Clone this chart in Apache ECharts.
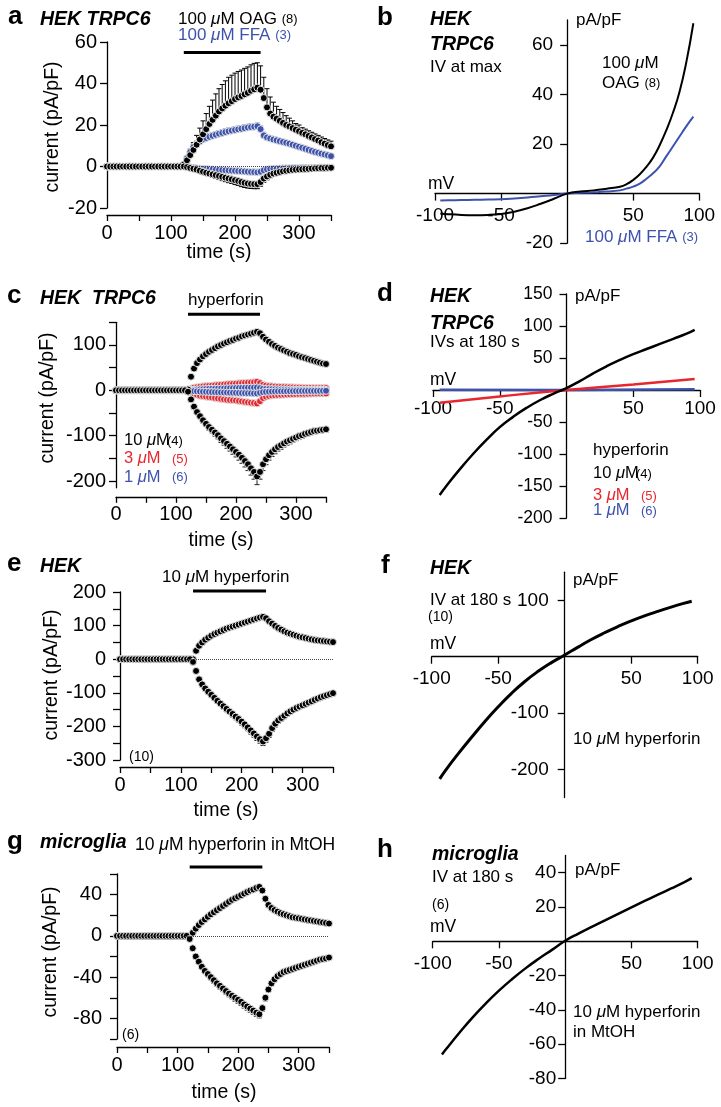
<!DOCTYPE html>
<html><head><meta charset="utf-8">
<script src="https://cdn.jsdelivr.net/npm/echarts@6/dist/echarts.min.js"></script>
<style>html,body{margin:0;padding:0;background:#fff}#c{width:721px;height:1107px}</style>
</head><body><div id="c"></div>
<script>
const FF = '"Liberation Sans", Arial, Helvetica, sans-serif';
const BLUE = '#3d52ae', RED = '#e8262d';

// ---- time-course data (t in s) ----
const TIME = [0,5,10,15,20,25,30,35,40,45,50,55,60,65,70,75,80,85,90,95,100,105,110,115,120,125,130,135,140,145,150,155,160,165,170,175,180,185,190,195,200,205,210,215,220,225,230,235,240,245,250,255,260,265,270,275,280,285,290,295,300,305,310,315,320,325,330,335,340,345,350];
const TIME_TICKS = [0,50,100,150,200,250,300,350];
const TIME_LABELS = [0,100,200,300];
const STIM = [120,240];

// panel a
const A_OAG_OUT = [0,0,0,0,0,0,0,0,0,0,0,0,0,0,0,0,0,0,0,0,0,0,0,0,1,3,5.5,8,10.5,13,15.5,18,20.5,22.5,24.5,26.5,28,29.3,30.5,31.5,32.5,33.3,34,34.8,35.5,36.5,37.2,38,37,33,28.5,25.5,24,23,22,21,20,19.3,18.5,17.7,17,16.2,15.5,14.7,14,13.2,12.5,11.7,11,10.3,9.7];
const A_OAG_OUT_ERR = [0,0,0,0,0,0,0,0,0,0,0,0,0,0,0,0,0,0,0,0,0,0,0,0,0.5,1.5,2.5,3.5,4.5,5.5,6.5,7.5,8.5,9.5,10.5,11,11.5,12,12.5,12.5,12.5,12.5,12.5,12.5,12.5,12.5,12.5,12,11.5,10,9,8,7,6,5.5,5,4.5,4,3.5,3,3,2.5,2.5,2.5,2.5,2.5,2.5,2.5,2.5,2.5,2.5];
const A_OAG_IN = [0,0,0,0,0,0,0,0,0,0,0,0,0,0,0,0,0,0,0,0,0,0,0,0,0,-0.3,-0.7,-1.1,-1.5,-2,-2.5,-3,-3.4,-3.8,-4.2,-4.6,-5,-5.4,-5.8,-6.2,-6.6,-7,-7.5,-7.9,-8.2,-8.4,-8.5,-8.5,-7.5,-5.8,-4.8,-4,-3.4,-3,-2.6,-2.3,-2,-1.8,-1.6,-1.5,-1.4,-1.3,-1.2,-1.1,-1,-0.9,-0.8,-0.7,-0.7,-0.6,-0.6];
const A_OAG_IN_ERR = [0,0,0,0,0,0,0,0,0,0,0,0,0,0,0,0,0,0,0,0,0,0,0,0,0.2,0.4,0.6,0.8,1,1.1,1.2,1.3,1.4,1.5,1.6,1.7,1.8,1.9,2,2,2.1,2.1,2.2,2.2,2.2,2.2,2.2,2.2,2,1.8,1.6,1.4,1.2,1.1,1,0.9,0.8,0.8,0.7,0.7,0.6,0.6,0.6,0.5,0.5,0.5,0.5,0.5,0.5,0.5,0.5];
const A_FFA_OUT = [0,0,0,0,0,0,0,0,0,0,0,0,0,0,0,0,0,0,0,0,0,0,0,0,1,4,7,9.5,11,12,13,13.7,14.3,14.8,15.3,15.8,16.2,16.6,17,17.3,17.6,17.9,18.2,18.5,18.8,19,19.2,19.4,18,15,14,13.5,13,12.6,12.2,11.8,11.4,11,10.5,10,9.5,9,8.5,8,7.5,7,6.6,6.2,5.8,5.4,5];
const A_FFA_OUT_ERR = [0,0,0,0,0,0,0,0,0,0,0,0,0,0,0,0,0,0,0,0,0,0,0,0,0.5,1,1.5,1.5,1.5,1.5,1.5,1.5,1.5,1.5,1.5,1.5,1.5,1.5,1.5,1.5,1.5,1.5,1.5,1.5,1.5,1.5,1.5,1.5,1.5,1.5,1.2,1.2,1.2,1.2,1.2,1,1,1,1,1,1,1,1,1,1,1,1,1,1,1,1];
const A_FFA_IN = [0,0,0,0,0,0,0,0,0,0,0,0,0,0,0,0,0,0,0,0,0,0,0,0,0,-0.2,-0.4,-0.6,-0.8,-1,-1.1,-1.2,-1.3,-1.4,-1.5,-1.6,-1.7,-1.8,-1.9,-2,-2.1,-2.2,-2.3,-2.4,-2.5,-2.6,-2.7,-2.8,-2.5,-1.8,-1.4,-1.2,-1.1,-1,-0.95,-0.9,-0.85,-0.8,-0.75,-0.7,-0.7,-0.65,-0.6,-0.6,-0.55,-0.55,-0.5,-0.5,-0.5,-0.5,-0.5];
const A_FFA_IN_ERR = [0,0,0,0,0,0,0,0,0,0,0,0,0,0,0,0,0,0,0,0,0,0,0,0,0.3,0.4,0.5,0.6,0.6,0.6,0.6,0.6,0.6,0.6,0.6,0.6,0.6,0.6,0.6,0.6,0.6,0.6,0.6,0.6,0.6,0.6,0.6,0.6,0.6,0.6,0.6,0.6,0.6,0.5,0.5,0.5,0.5,0.5,0.5,0.5,0.5,0.5,0.5,0.5,0.5,0.5,0.5,0.5,0.5,0.5,0.5];

// panel c
const C10_OUT = [0,0,0,0,0,0,0,0,0,0,0,0,0,0,0,0,0,0,0,0,0,0,0,0,2,30,48,60,68,75,80,85,89,93,97,100,103,106,109,111,114,116,119,121,123,125,127,129,126,118,112,107,102,98,94,91,88,85,82,80,78,75,73,71,69,67,65,63,61,59,58];
const C10_OUT_ERR = [0,0,0,0,0,0,0,0,0,0,0,0,0,0,0,0,0,0,0,0,0,0,0,0,1,3,4,4,4,4,4,4,4,4,5,5,5,5,5,5,5,5,5,5,5,5,5,5,5,5,5,5,5,5,5,5,5,4,4,4,4,4,4,4,4,4,4,4,4,4,4];
const C10_IN = [0,0,0,0,0,0,0,0,0,0,0,0,0,0,0,0,0,0,0,0,0,0,0,0,-3,-20,-36,-48,-57,-66,-74,-81,-87,-93,-99,-106,-112,-118,-124,-130,-136,-142,-149,-156,-163,-172,-180,-190,-180,-163,-152,-143,-136,-130,-125,-121,-117,-113,-110,-107,-104,-101,-99,-96,-94,-92,-90,-89,-88,-87,-86];
const C10_IN_ERR = [0,0,0,0,0,0,0,0,0,0,0,0,0,0,0,0,0,0,0,0,0,0,0,0,1,2,3,4,5,6,6,7,7,8,8,9,9,10,10,11,11,12,12,13,14,15,16,18,16,14,12,11,10,10,9,9,8,8,8,7,7,7,7,6,6,6,6,6,6,6,6];
const C3_OUT = [0,0,0,0,0,0,0,0,0,0,0,0,0,0,0,0,0,0,0,0,0,0,0,0,1,4,6,7,8,8.7,9.4,10,10.6,11.2,11.8,12.4,13,13.5,14,14.5,15,15.5,16,16.5,17,17.5,18,19,16,12,10.5,9.5,9,8.5,8,7.6,7.3,7,6.8,6.6,6.4,6.2,6,5.8,5.6,5.4,5.2,5.1,5,5,5];
const C3_IN = [0,0,0,0,0,0,0,0,0,0,0,0,0,0,0,0,0,0,0,0,0,0,0,0,-1,-5,-8,-10,-12,-13,-14,-15,-16,-17,-18,-19,-20,-21,-21.5,-22,-22.5,-23.5,-24.5,-25.5,-26.5,-27.5,-28,-29,-24,-17,-14,-12.5,-11.5,-11,-10.5,-10,-9.7,-9.4,-9.1,-8.8,-8.5,-8.3,-8.1,-7.9,-7.7,-7.5,-7.3,-7.2,-7.1,-7,-7];
const C1_OUT = [0,0,0,0,0,0,0,0,0,0,0,0,0,0,0,0,0,0,0,0,0,0,0,0,0.5,1,1.5,2,2.3,2.6,2.9,3.2,3.4,3.6,3.8,4,4.2,4.4,4.6,4.8,5,5.2,5.4,5.6,5.8,6,6.2,6.4,5,3.5,3,2.7,2.5,2.3,2.1,2,1.9,1.8,1.7,1.6,1.5,1.5,1.4,1.4,1.3,1.3,1.2,1.2,1.1,1.1,1];
const C1_IN = [0,0,0,0,0,0,0,0,0,0,0,0,0,0,0,0,0,0,0,0,0,0,0,0,-0.5,-1.2,-1.8,-2.3,-2.7,-3,-3.3,-3.6,-3.9,-4.2,-4.4,-4.6,-4.8,-5,-5.2,-5.4,-5.6,-5.8,-6,-6.2,-6.4,-6.6,-6.8,-7,-5.5,-4,-3.4,-3,-2.7,-2.5,-2.3,-2.2,-2.1,-2,-1.9,-1.8,-1.7,-1.7,-1.6,-1.6,-1.5,-1.5,-1.4,-1.4,-1.3,-1.3,-1.2];

// panel e
const E_OUT = [0,0,0,0,0,0,0,0,0,0,0,0,0,0,0,0,0,0,0,0,0,0,0,0,0,25,40,50,58,64,70,75,79,83,87,91,94,97,100,103,106,109,112,115,118,121,124,126,122,113,106,99,93,88,83,79,76,73,70,67,65,63,61,59,57,56,55,54,53,52,51];
const E_OUT_ERR = [0,0,0,0,0,0,0,0,0,0,0,0,0,0,0,0,0,0,0,0,0,0,0,0,1,3,4,4,4,5,5,5,5,5,5,5,5,5,5,5,5,5,5,5,5,5,5,5,5,5,5,5,5,5,5,5,5,5,4,4,4,4,4,4,4,4,4,4,4,4,4];
const E_IN = [0,0,0,0,0,0,0,0,0,0,0,0,0,0,0,0,0,0,0,0,0,0,0,0,-8,-35,-60,-75,-87,-97,-106,-115,-124,-132,-140,-148,-156,-163,-171,-178,-186,-194,-203,-212,-221,-230,-238,-245,-235,-222,-205,-192,-182,-175,-168,-161,-155,-150,-145,-141,-137,-133,-129,-125,-121,-117,-113,-110,-107,-104,-101];
const E_IN_ERR = [0,0,0,0,0,0,0,0,0,0,0,0,0,0,0,0,0,0,0,0,0,0,0,0,1,3,4,5,5,6,6,7,7,7,8,8,8,9,9,9,10,10,10,11,11,12,12,12,12,11,10,10,9,9,9,8,8,8,8,7,7,7,7,7,7,7,7,6,6,6,6];

// panel g
const G_OUT = [0,0,0,0,0,0,0,0,0,0,0,0,0,0,0,0,0,0,0,0,0,0,0,0,0,3,7,10.5,13.5,16,18.5,21,23,25,27,29,31,33,35,36.5,38,39.5,41,42.5,44,45,46.5,47.5,44,36,30,27,25,23.5,22,21,20,19,18,17.5,17,16.5,16,15.5,15,14.5,14,13.5,13,12.5,12];
const G_OUT_ERR = [0,0,0,0,0,0,0,0,0,0,0,0,0,0,0,0,0,0,0,0,0,0,0,0,0.3,0.8,1,1.2,1.4,1.5,1.6,1.7,1.8,1.9,2,2,2,2,2,2,2,2,2,2,2,2,2,2,2,2,2,1.8,1.6,1.5,1.5,1.4,1.4,1.3,1.3,1.2,1.2,1.2,1.1,1.1,1.1,1,1,1,1,1,1];
const G_IN = [0,0,0,0,0,0,0,0,0,0,0,0,0,0,0,0,0,0,0,0,0,0,0,0,-3,-12,-20,-25,-30,-34,-37,-40,-43,-46,-48.5,-51,-53.5,-56,-58,-60,-62,-64,-66.5,-68.5,-70.5,-72.5,-74.5,-76,-70,-60,-52,-46,-42,-39,-37,-35,-34,-33,-32,-31,-30,-29,-28,-27,-26,-25,-24,-23,-22.5,-22,-21];
const G_IN_ERR = [0,0,0,0,0,0,0,0,0,0,0,0,0,0,0,0,0,0,0,0,0,0,0,0,0.5,1,1.5,2,2,2.5,2.5,2.5,3,3,3,3,3,3,3,3.5,3.5,3.5,3.5,3.5,3.5,3.5,3.5,3.5,3,3,2.5,2.5,2.5,2,2,2,2,2,2,2,2,1.5,1.5,1.5,1.5,1.5,1.5,1.5,1.5,1.5,1.5];

// ---- IV curves (mV, pA/pF) ----
const MV_TICKS = [-100,-50,50,100];
const B_MV  = [-96,-90,-80,-70,-60,-50,-40,-30,-20,-10,0,10,20,30,40,45,50,55,60,65,70,75,80,85,90,95.5];
const B_OAG = [-8,-8.3,-8.6,-8.7,-8.6,-8.2,-7.3,-5.9,-4.1,-2.1,0,0.8,1.3,2,2.8,3.8,5.5,7.8,10.8,14.5,19.5,25.5,32.5,41,52.5,68.7];
const B_FFA = [-2.8,-2.7,-2.6,-2.5,-2.4,-2.3,-2,-1.6,-1.1,-0.6,0,0.3,0.5,0.8,1.3,2,2.8,4,6,8.2,11,15,19,23,27,31];
const D_MV  = [-95,-90,-80,-70,-60,-50,-40,-30,-20,-10,0,10,20,30,40,50,60,70,80,90,96];
const D_10  = [-164,-150,-124,-100,-78,-58,-42,-28,-16,-6,3,14,26,37,47,56,64,72,80,88,94];
const D3_MV = [-95,-50,0,50,96];
const D_3   = [-20,-10,0,8.5,17];
const D1_MV = [-95,0,96];
const D_1   = [0.5,0,1];
const F_MV  = [-94,-90,-80,-70,-60,-50,-40,-30,-20,-10,0,10,20,30,40,50,60,70,80,90,95.5];
const F_10  = [-217,-203,-172,-143,-115,-89,-65,-44,-26,-10.5,3,17,30.5,42.5,53.5,63.5,72.5,80.5,88,95,98.5];
const H_MV  = [-93,-90,-80,-70,-60,-50,-40,-30,-20,-10,0,10,20,30,40,50,60,70,80,90,95.5];
const H_10  = [-66,-63,-53.5,-44.5,-36.3,-28.8,-22,-15.8,-10.2,-5,0.3,4.5,8.4,12.2,16,19.8,23.5,27.2,30.8,34.5,36.8];

// axis tick/label lists
const A_Y = [-20,0,20,40,60];
const C_Y_TICKS = [-200,-150,-100,-50,0,50,100,150];
const C_Y_LABELS = [-200,-100,0,100];
const E_Y_TICKS = [-300,-250,-200,-150,-100,-50,0,50,100,150,200];
const E_Y_LABELS = [-300,-200,-100,0,100,200];
const G_Y_TICKS = [-100,-80,-60,-40,-20,0,20,40,60];
const G_Y_LABELS = [-80,-40,0,40];
const B_Y = [-20,20,40,60];
const D_Y = [-200,-150,-100,-50,50,100,150];
const F_Y = [-200,-100,100];
const H_Y = [-80,-60,-40,-20,20,40];

// ---------------------------------------------------------
const LS = {color:'#000', width:1.3};
function leftX(gi, offset){ return {gridIndex:gi, type:'value', min:0, max:350, position:'bottom', offset:offset,
  axisLine:{show:true,onZero:false,lineStyle:LS}, axisTick:{show:true,length:6,lineStyle:LS,customValues:TIME_TICKS},
  axisLabel:{show:true,customValues:TIME_LABELS,fontSize:20,fontFamily:FF,color:'#000',margin:8}, splitLine:{show:false}}; }
function leftY(gi,min,max,ticks,labels,margin){ return {gridIndex:gi,type:'value',min:min,max:max,position:'left',
  axisLine:{show:true,onZero:false,lineStyle:LS}, axisTick:{show:true,length:7,lineStyle:LS,customValues:ticks},
  axisLabel:{show:true,customValues:labels,fontSize:20,fontFamily:FF,color:'#000',margin:margin}, splitLine:{show:false}}; }
// IV axes: crossing at the origin (placed with a negative offset from the grid edge)
function rightX(gi, offset, margin){ return {gridIndex:gi,type:'value',min:-100,max:100,position:'bottom',offset:offset,
  axisLine:{show:true,onZero:false,lineStyle:LS}, axisTick:{show:true,length:7,lineStyle:LS,customValues:MV_TICKS},
  axisLabel:{show:true,customValues:MV_TICKS,fontSize:19,fontFamily:FF,color:'#000',margin:margin}, splitLine:{show:false}}; }
function rightY(gi,min,max,ticks,offset,margin,fs){ return {gridIndex:gi,type:'value',min:min,max:max,position:'left',offset:offset,
  axisLine:{show:true,onZero:false,lineStyle:LS}, axisTick:{show:true,length:7,lineStyle:LS,customValues:ticks},
  axisLabel:{show:true,customValues:ticks,fontSize:fs||19,fontFamily:FF,color:'#000',margin:margin}, splitLine:{show:false}}; }

function errSeries(gi, vals, errs, dir, color){
  return {type:'custom', xAxisIndex:gi, yAxisIndex:gi, z:2, silent:true, clip:false, animation:false,
    data: TIME.map((t,i)=>[t, vals[i], errs[i]]),
    renderItem:function(params, api){
      const e = api.value(2); if(!e) return null;
      const t = api.value(0), v = api.value(1);
      const p0 = api.coord([t, v]), p1 = api.coord([t, v + dir*e]);
      const st = {stroke:color, lineWidth:1};
      return {type:'group', children:[
        {type:'line', shape:{x1:p0[0],y1:p0[1],x2:p1[0],y2:p1[1]}, style:st},
        {type:'line', shape:{x1:p1[0]-2.5,y1:p1[1],x2:p1[0]+2.5,y2:p1[1]}, style:st}]};
    }};
}
function dotSeries(gi, vals, color){
  return {type:'scatter', xAxisIndex:gi, yAxisIndex:gi, z:3, symbol:'circle', symbolSize:7, silent:true, animation:false,
    itemStyle:{color:color, borderColor:'#e4e4e4', borderWidth:1, opacity:1},
    data: TIME.map((t,i)=>[t, vals[i]])};
}
function zeroLine(gi){
  return {type:'line', xAxisIndex:gi, yAxisIndex:gi, z:1, data:[], silent:true,
    markLine:{silent:true, symbol:'none', animation:false, label:{show:false},
      lineStyle:{type:'dotted', color:'#444', width:1}, data:[{yAxis:0}]}};
}
function stimBar(gi, yLevel){
  return {type:'line', xAxisIndex:gi, yAxisIndex:gi, z:5, clip:false, silent:true, symbol:'none', animation:false,
    lineStyle:{color:'#000', width:3}, data: STIM.map(t=>[t, yLevel])};
}
function ivLine(gi, xs, ys, color, w){
  return {type:'line', xAxisIndex:gi, yAxisIndex:gi, z:4, symbol:'none', smooth:true, silent:true, animation:false,
    lineStyle:{color:color, width:w}, data: xs.map((x,i)=>[x, ys[i]])};
}
function T(text, x, y, size, o){
  o = o || {};
  const color = o.color || '#000';
  return {type:'text', x:x, y:y, z:100, silent:true, rotation:o.rot||0,
    style:{text:text, fill:color, fontSize:size, fontFamily:FF, fontWeight:o.weight||'normal', fontStyle:o.fstyle||'normal',
      textAlign:o.align||'left', textVerticalAlign:'middle', align:o.align||'left', verticalAlign:'middle',
      rich:{mu:{fill:color,fontSize:size,fontFamily:FF,fontStyle:'italic'}, sm:{fill:color,fontSize:13,fontFamily:FF}}}};
}

const chart = echarts.init(document.getElementById('c'), null, {renderer:'canvas'});
const grids = [
  {left:107, top:42, width:224, height:166},
  {left:435, top:20, width:264.3, height:223.2},
  {left:116, top:322.3, width:210, height:165.5},
  {left:433, top:294, width:267, height:224},
  {left:120, top:592, width:213, height:168},
  {left:431.7, top:572.2, width:266, height:225.3},
  {left:117, top:874, width:212, height:165},
  {left:432.7, top:855.5, width:265, height:223}
].map(g => Object.assign({outerBoundsMode:'none', containLabel:false}, g));

const B = {weight:'bold'}, BI = {weight:'bold', fstyle:'italic'};
const graphics = [
  // panel letters
  T('a',8,17,26,B), T('b',377,17.6,26,B), T('c',7,296,26,B), T('d',377,294,26,B),
  T('e',7,564,26,B), T('f',381,566,26,B), T('g',7,842,26,B), T('h',377,850,26,B),
  // a
  T('HEK TRPC6',40,19.4,19.5,BI),
  T('100 {mu|μ}M OAG {sm|(8)}',178,19.7,17),
  T('100 {mu|μ}M FFA {sm|(3)}',178,35.4,17,{color:BLUE}),
  T('current (pA/pF)',53,127,19.5,{align:'center',rot:Math.PI/2}),
  T('time (s)',219,253,19.5,{align:'center'}),
  // b
  T('HEK',430,20,19.5,BI), T('TRPC6',430,45,19.5,BI), T('IV at max',430,67.4,17),
  T('pA/pF',576,20.4,17), T('mV',428,183.7,17.5),
  T('100 {mu|μ}M',602,63.7,17), T('OAG {sm|(8)}',602,83.7,17),
  T('100 {mu|μ}M FFA {sm|(3)}',585,237,17,{color:BLUE}),
  // c
  T('HEK  TRPC6',40,298.4,19.5,BI),
  T('hyperforin',188,300.7,17),
  T('10 {mu|μ}M',124,440.4,16.5), T('(4)',167,441,13),
  T('3 {mu|μ}M',124,458.7,16.5,{color:RED}), T('(5)',172,459.3,13,{color:RED}),
  T('1 {mu|μ}M',124,477,16.5,{color:BLUE}), T('(6)',172,477.6,13,{color:BLUE}),
  T('current (pA/pF)',48,398,19.5,{align:'center',rot:Math.PI/2}),
  T('time (s)',221,541,19.5,{align:'center'}),
  // d
  T('HEK',430,296.7,19.5,BI), T('TRPC6',430,323.4,19.5,BI), T('IVs at 180 s',430,342.4,17),
  T('pA/pF',575,296.7,17), T('mV',430,380.4,17.5),
  T('hyperforin',593,450.4,17),
  T('10 {mu|μ}M',593,473.7,16.5), T('(4)',636,474.3,13),
  T('3 {mu|μ}M',593,495.4,16.5,{color:RED}), T('(5)',641,496,13,{color:RED}),
  T('1 {mu|μ}M',593,510.4,16.5,{color:BLUE}), T('(6)',641,511,13,{color:BLUE}),
  // e
  T('HEK',40,566.4,19.5,BI),
  T('10 {mu|μ}M hyperforin',162,577,17),
  T('(10)',129,757.5,14),
  T('current (pA/pF)',52,675,19.5,{align:'center',rot:Math.PI/2}),
  T('time (s)',226,811,19.5,{align:'center'}),
  // f
  T('HEK',430,568.4,19.5,BI), T('IV at 180 s',430,600.7,17), T('(10)',428,617,14),
  T('pA/pF',573,580,17), T('mV',430,643.7,17.5),
  T('10 {mu|μ}M hyperforin',573,739,17),
  // g
  T('microglia',40,843,19.5,BI),
  T('10 {mu|μ}M hyperforin in MtOH',135,845,17.5),
  T('(6)',122,1035,14),
  T('current (pA/pF)',51,952,19.5,{align:'center',rot:Math.PI/2}),
  T('time (s)',224,1093,19.5,{align:'center'}),
  // h
  T('microglia',432,855,19.5,BI), T('IV at 180 s',432,877.4,17), T('(6)',432,905,14),
  T('pA/pF',575,870,17), T('mV',430,927,17.5),
  T('10 {mu|μ}M hyperforin',573,1012,17), T('in MtOH',573,1032,17)
];

const series = [
  // a
  zeroLine(0),
  errSeries(0, A_FFA_OUT, A_FFA_OUT_ERR, 1, BLUE),
  errSeries(0, A_FFA_IN, A_FFA_IN_ERR, -1, BLUE),
  errSeries(0, A_OAG_OUT, A_OAG_OUT_ERR, 1, '#000'),
  errSeries(0, A_OAG_IN, A_OAG_IN_ERR, -1, '#000'),
  dotSeries(0, A_FFA_OUT, BLUE), dotSeries(0, A_FFA_IN, BLUE),
  dotSeries(0, A_OAG_OUT, '#000'), dotSeries(0, A_OAG_IN, '#000'),
  stimBar(0, 55),
  // b
  ivLine(1, B_MV, B_FFA, BLUE, 2), ivLine(1, B_MV, B_OAG, '#000', 2),
  // c
  errSeries(2, C10_OUT, C10_OUT_ERR, 1, '#222'),
  errSeries(2, C10_IN, C10_IN_ERR, -1, '#222'),
  dotSeries(2, C3_OUT, RED), dotSeries(2, C3_IN, RED),
  dotSeries(2, C1_OUT, BLUE), dotSeries(2, C1_IN, BLUE),
  dotSeries(2, C10_OUT, '#000'), dotSeries(2, C10_IN, '#000'),
  stimBar(2, 168),
  // d
  ivLine(3, D1_MV, D_1, BLUE, 2.5), ivLine(3, D3_MV, D_3, RED, 2.5), ivLine(3, D_MV, D_10, '#000', 2.5),
  // e
  zeroLine(4),
  errSeries(4, E_OUT, E_OUT_ERR, 1, '#222'),
  errSeries(4, E_IN, E_IN_ERR, -1, '#222'),
  dotSeries(4, E_OUT, '#000'), dotSeries(4, E_IN, '#000'),
  stimBar(4, 203),
  // f
  ivLine(5, F_MV, F_10, '#000', 3),
  // g
  zeroLine(6),
  errSeries(6, G_OUT, G_OUT_ERR, 1, '#222'),
  errSeries(6, G_IN, G_IN_ERR, -1, '#222'),
  dotSeries(6, G_OUT, '#000'), dotSeries(6, G_IN, '#000'),
  stimBar(6, 66.8),
  // h
  ivLine(7, H_MV, H_10, '#000', 2.5)
];

chart.setOption({
  animation:false,
  backgroundColor:'#fff',
  textStyle:{fontFamily:FF},
  grid: grids,
  xAxis: [
    leftX(0,7), rightX(1,-49.6,13), leftX(2,9), rightX(3,-128,9.5),
    leftX(4,7), rightX(5,-140.8,13), leftX(6,8), rightX(7,-137.2,13)
  ],
  yAxis: [
    leftY(0,-20,60,A_Y,A_Y,10),
    rightY(1,-20,70,B_Y,-132.15,14),
    leftY(2,-215,150,C_Y_TICKS,C_Y_LABELS,10),
    rightY(3,-200,150,D_Y,-133.5,14,17.5),
    leftY(4,-300,200,E_Y_TICKS,E_Y_LABELS,14),
    rightY(5,-250,150,F_Y,-133,16),
    leftY(6,-100,60,G_Y_TICKS,G_Y_LABELS,15),
    rightY(7,-80,50,H_Y,-132.5,9)
  ],
  series: series,
  graphic: graphics
});
</script></body></html>
